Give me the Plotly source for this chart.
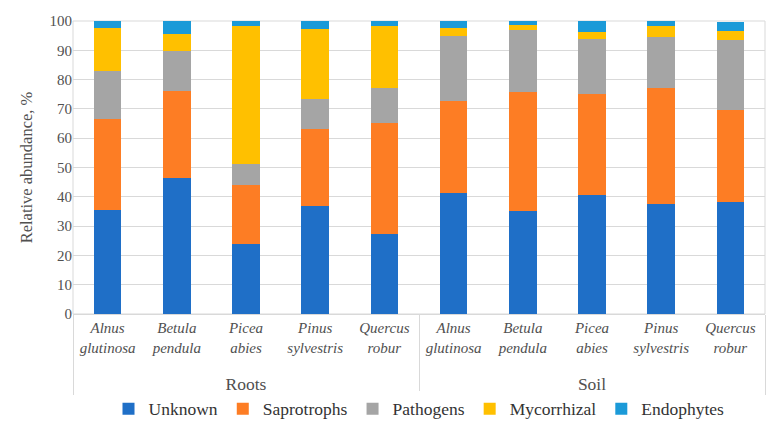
import plotly.graph_objects as go

group_names = ["Roots", "Soil"]
species_names = ["Alnus<br>glutinosa", "Betula<br>pendula", "Picea<br>abies",
                 "Pinus<br>sylvestris", "Quercus<br>robur"]

groups = [f"<span style='font-size:17.5px'>{g}</span>" for g in group_names for _ in species_names]
species_labels = ["<i>" + s.replace("<br>", "</i><br><i>") + "</i><br> "
                  for _ in group_names for s in species_names]

unknown = [35.5, 46.3, 24.0, 37.0, 27.3, 41.3, 35.0, 40.5, 37.7, 38.3]
saprotrophs = [31.0, 29.7, 20.0, 26.0, 37.9, 31.4, 40.7, 34.5, 39.3, 31.3]
pathogens = [16.5, 13.7, 7.3, 10.5, 11.8, 22.3, 21.3, 19.0, 17.4, 24.0]
mycorrhizal = [14.5, 5.8, 46.9, 23.7, 21.3, 2.5, 1.8, 2.4, 3.8, 3.0]
endophytes = [2.5, 4.5, 1.8, 2.8, 1.7, 2.5, 1.2, 3.6, 1.8, 3.0]

series = [
    ("Unknown", unknown, "#1F6FC7"),
    ("Saprotrophs", saprotrophs, "#FD7D24"),
    ("Pathogens", pathogens, "#A5A5A5"),
    ("Mycorrhizal", mycorrhizal, "#FFC000"),
    ("Endophytes", endophytes, "#1B9AD8"),
]

FAM = "'Liberation Serif', 'Times New Roman', 'DejaVu Serif', serif"

fig = go.Figure()
for name, vals, color in series:
    fig.add_trace(go.Bar(
        x=[groups, species_labels], y=vals, name=name,
        marker=dict(color=color, line=dict(width=0)),
    ))

fig.update_layout(
    barmode="stack",
    bargap=0.6,
    width=768, height=419,
    margin=dict(l=65, r=11, t=13, b=113, autoexpand=False),
    paper_bgcolor="white", plot_bgcolor="white",
    font=dict(family=FAM, size=15, color="#333333"),
    legend=dict(orientation="h", x=0.5, xanchor="center", y=-0.262, yanchor="top",
                font=dict(family=FAM, size=17.5, color="#333333"), itemwidth=30,
                traceorder="normal"),
    xaxis=dict(type="multicategory", tickfont=dict(family=FAM, size=15, color="#505050"),
               showline=True, linecolor="#D9D9D9", linewidth=1, mirror=False,
               showdividers=True, dividercolor="#D9D9D9", dividerwidth=1,
               ticks="", automargin=False),
    yaxis=dict(range=[0, 100], dtick=10, showgrid=True, gridcolor="#D9D9D9",
               gridwidth=1, zeroline=False, automargin=False,
               tickfont=dict(family=FAM, size=15, color="#505050"),
               title=dict(text="Relative abundance, %",
                          font=dict(family=FAM, size=16.5, color="#505050"),
                          standoff=12),
               showline=False),
)
fig.add_shape(type="rect", xref="paper", yref="paper", x0=0, x1=1, y0=0, y1=1,
              line=dict(color="#D9D9D9", width=1), layer="below")

fig.write_html("out.html")
